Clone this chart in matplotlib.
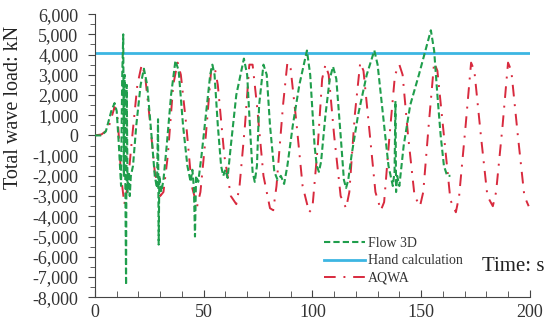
import matplotlib.pyplot as plt
from matplotlib.ticker import MultipleLocator, FuncFormatter

# Flow 3D (t, load)
flow_t = [0, 3, 5, 7.5, 9, 10, 11, 12, 12.5, 13, 13.3, 13.6, 14, 14.3, 14.6, 15, 15.5, 16, 16.5,
          17.5, 19, 21, 22.5, 24, 26, 27.5, 28.5, 29, 29.3, 29.6, 30.5, 31.5, 33, 35, 37, 38.5,
          40.5, 42.5, 44, 44.8, 45.5, 46, 46.5, 47.5, 49, 51, 53, 54, 55, 56.5, 58, 59, 60, 61,
          62.5, 65, 68.5, 70, 71.5, 72.5, 73.5, 74.5, 75.5, 77.5, 79, 80.5, 82.5, 84, 85.5, 87,
          88.5, 91, 94, 97.5, 99, 101, 102, 103, 104, 106, 108, 109.5, 111, 113, 114.5, 115.5,
          116.5, 118, 121, 125, 128.5, 130, 132.5, 135, 137, 137.8, 138.2, 138.5, 139, 140, 142,
          145, 149, 152, 154.5, 156, 157.5, 159, 160.5, 162, 163.5]
flow_v = [0, 0, 200, 1200, 1600, 1200, -500, -2500, 2800, 5000, -2000, 3000, -3000, -7400, 2500,
          -2800, -1800, -3000, -2000, -1500, 500, 2500, 3300, 2500, 0, -2000, -2600, 800, -5400,
          -2000, -2800, -2200, -500, 2000, 3700, 3200, 500, -1500, -2300, -1700, -2600, -5000,
          -2000, -2300, -1000, 1000, 3000, 3500, 3000, 500, -1500, -2000, -1700, -2100, -500,
          2000, 3800, 3000, 0, -1800, -2300, -1500, 1500, 3500, 3000, 500, -1800, -2200, -2000,
          -2400, -1500, 500, 2500, 4200, 3000, -500, -1500, -1800, -1300, 1000, 2800, 3400, 2800,
          0, -2200, -2600, -2200, -1000, 1000, 3000, 4200, 3500, 1000, -1500, -2500, -1800, 1700,
          -2800, -2000, -2500, -500, 1500, 3000, 4200, 5200, 4200, 2000, 0, -1500, -2000, -2000]

# AQWA (t, load)
aqwa_t = [0, 3, 6, 9, 10.5, 12, 13.5, 15, 17, 19.5, 21.5, 23, 25, 27.5, 30, 31.5, 33.5, 36, 38,
          39.5, 42, 44.5, 47, 48.5, 51, 53.5, 55, 56.5, 59.5, 62.5, 65, 66.5, 69, 71, 72.5, 74.5,
          77.5, 80.5, 82, 83.5, 86.5, 88.5, 90, 92.5, 95.5, 98.5, 100, 102.5, 104.5, 106, 107.5,
          110, 113, 115.5, 117, 119.5, 122, 123.5, 126, 129, 131.5, 133, 135.5, 138, 140, 141.5,
          144, 147, 149.5, 151, 153.5, 156, 157.5, 160.5, 163.5, 166, 167.5, 170.5, 173, 174.5,
          177.5, 180.5, 183, 184.5, 187.5, 190, 191.5, 194.5, 197.5, 199.5]
aqwa_v = [0, 50, 300, 1400, 800, -2000, -3400, -2500, -200, 2500, 3500, 3000, 1000, -1800, -3000,
          -2800, -1000, 2500, 3600, 3000, 500, -2500, -3500, -2800, 0, 3300, 3400, 2500, -1000,
          -3000, -3400, -2500, 500, 3500, 3500, 1500, -2000, -3600, -3700, -2500, 1500, 3600, 3300,
          800, -2500, -3800, -3600, -500, 2800, 3500, 3000, 0, -3000, -3600, -2800, 1000, 3600,
          3200, 500, -2800, -3700, -3300, 0, 3000, 3500, 3000, 0, -3000, -3500, -2800, 500, 3600,
          3200, 0, -3200, -3800, -3000, 500, 3600, 3200, 0, -3000, -3500, -2800, 500, 3600, 3200,
          0, -3000, -3500]

hand_t = [0, 200]
hand_v = [4100, 4100]

plt.rcParams['font.family'] = ['Liberation Serif', 'DejaVu Serif']

fig = plt.figure(figsize=(5.49, 3.28), dpi=100)
ax = fig.add_axes([0.173, 0.094, 0.792, 0.863])

ax.plot(flow_t, flow_v, color='#1f9e4c', lw=1.5, linestyle=(0, (3, 1.5)), label='Flow 3D', zorder=3)
ax.plot(hand_t, hand_v, color='#3cb6e2', lw=2, label='Hand calculation', zorder=2)
ax.plot(aqwa_t, aqwa_v, color='#d82a3e', lw=1.4, linestyle=(0, (6, 4, 1, 4)), label='AQWA', zorder=2)

ax.set_xlim(0, 200)
ax.set_ylim(-8000, 6000)
ax.xaxis.set_major_locator(MultipleLocator(50))
ax.xaxis.set_minor_locator(MultipleLocator(10))
ax.yaxis.set_major_locator(MultipleLocator(1000))
ax.yaxis.set_minor_locator(MultipleLocator(500))
ax.yaxis.set_major_formatter(FuncFormatter(lambda v, p: f'{int(v):,}'))

for s in ['top', 'right']:
    ax.spines[s].set_visible(False)
for s in ['left', 'bottom']:
    ax.spines[s].set_color('#444444')
ax.tick_params(axis='y', which='major', direction='out', length=5, color='#444444',
               labelsize=13, labelcolor='#333333', pad=7)
ax.tick_params(axis='y', which='minor', direction='out', length=3.5, color='#444444')
ax.tick_params(axis='x', which='major', direction='in', length=5, color='#444444',
               labelsize=13, labelcolor='#333333', pad=5)
ax.tick_params(axis='x', which='minor', direction='in', length=4, color='#444444')

ax.set_ylabel('Total wave load: kN', fontsize=14.5, color='#222222')
ax.yaxis.set_label_coords(-0.165, 0.67)
fig.text(0.878, 0.175, 'Time: s', fontsize=15, color='#222222')

ax.legend(loc='lower left', bbox_to_anchor=(0.51, 0.02), frameon=False, fontsize=10,
          handlelength=3.0, handletextpad=0.2, labelspacing=0.3, borderpad=0, labelcolor='#333333')

fig.savefig('out.png', dpi=100)
